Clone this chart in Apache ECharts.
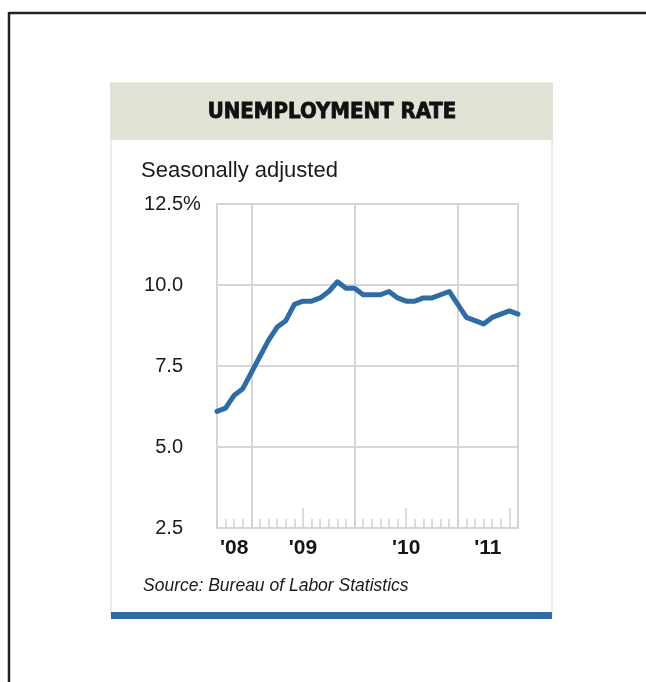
<!DOCTYPE html>
<html>
<head>
<meta charset="utf-8">
<script src="https://cdn.jsdelivr.net/npm/echarts@6/dist/echarts.min.js"></script>
<style>
  html, body { margin: 0; padding: 0; background: #ffffff; }
  #chart { width: 646px; height: 682px; }
</style>
</head>
<body>
<div id="chart"></div>
<script>
// ---- data (monthly, seasonally adjusted) ----
const months = [
  '2008-08','2008-09','2008-10','2008-11','2008-12',
  '2009-01','2009-02','2009-03','2009-04','2009-05','2009-06','2009-07','2009-08','2009-09','2009-10','2009-11','2009-12',
  '2010-01','2010-02','2010-03','2010-04','2010-05','2010-06','2010-07','2010-08','2010-09','2010-10','2010-11','2010-12',
  '2011-01','2011-02','2011-03','2011-04','2011-05','2011-06','2011-07'
];
const rates = [
  6.1, 6.2, 6.6, 6.8, 7.3,
  7.8, 8.3, 8.7, 8.9, 9.4, 9.5, 9.5, 9.6, 9.8, 10.1, 9.9, 9.9,
  9.7, 9.7, 9.7, 9.8, 9.6, 9.5, 9.5, 9.6, 9.6, 9.7, 9.8, 9.4,
  9.0, 8.9, 8.8, 9.0, 9.1, 9.2, 9.1
];
const yearLabels = ["'08", "'09", "'10", "'11"];
const yTickValues = [2.5, 5.0, 7.5, 10.0, 12.5];
const titleText = 'UNEMPLOYMENT RATE';
const subtitleText = 'Seasonally adjusted';
const sourceText = 'Source: Bureau of Labor Statistics';

// ---- derived: x in months since Jan 1 2008, plotted at month end ----
const baseYear = 2008;
function monthEnd(s) {
  const [y, m] = s.split('-').map(Number);
  return (y - baseYear) * 12 + m;
}
const xs = months.map(monthEnd);
const xMin = monthEnd(months[0]);
const xMax = monthEnd(months[months.length - 1]);
const seriesData = rates.map((v, i) => [xs[i], v]);

const yearBounds = [];
const monthTicks = [];
const midYearTicks = [];
for (let t = Math.ceil(xMin); t <= xMax; t++) {
  monthTicks.push(t);
  if (t % 12 === 0 && t > xMin && t < xMax) yearBounds.push(t);
  if (t % 12 === 6) midYearTicks.push(t);
}
const yearCenters = yearLabels.map((_, k) => {
  const lo = Math.max(xMin, k * 12), hi = Math.min(xMax, (k + 1) * 12);
  return (lo + hi) / 2;
});

const gridColor = '#d3d6db';
const labelFont = "'Liberation Sans', Arial, Helvetica, sans-serif";

const G = { left: 217, top: 204, width: 301, height: 324 };

const baseX = { type: 'value', min: xMin, max: xMax, gridIndex: 0, position: 'bottom', offset: 0,
                axisLine: { show: false, onZero: false } };

const option = {
  animation: false,
  backgroundColor: '#ffffff',
  grid: { left: G.left, top: G.top, width: G.width, height: G.height,
          show: true, borderColor: gridColor, borderWidth: 2, backgroundColor: 'transparent' },
  xAxis: [
    Object.assign({}, baseX, {
      axisTick: { show: false, customValues: yearBounds },
      axisLabel: { show: false },
      splitLine: { show: true, lineStyle: { color: gridColor, width: 2 } }
    }),
    Object.assign({}, baseX, {
      axisTick: { show: true, inside: true, length: 9, customValues: monthTicks,
                  lineStyle: { color: '#cdd0d5', width: 1.5 } },
      axisLabel: { show: false },
      splitLine: { show: false }
    }),
    Object.assign({}, baseX, {
      axisTick: { show: true, inside: true, length: 20, customValues: midYearTicks,
                  lineStyle: { color: '#cdd0d5', width: 1.5 } },
      axisLabel: { show: false },
      splitLine: { show: false }
    }),
    Object.assign({}, baseX, {
      axisTick: { show: false },
      splitLine: { show: false },
      axisLabel: { show: true, customValues: yearCenters, margin: 10,
                   color: '#141414', fontFamily: labelFont, fontWeight: 'bold', fontSize: 21,
                   formatter: v => yearLabels[Math.floor(v / 12)] }
    })
  ],
  yAxis: [
    {
      type: 'value', min: yTickValues[0], max: yTickValues[yTickValues.length - 1], interval: 2.5,
      position: 'left',
      axisLine: { show: false }, axisTick: { show: false },
      splitLine: { show: true, lineStyle: { color: gridColor, width: 2 } },
      axisLabel: { margin: 34, color: '#1a1a1a', fontFamily: labelFont, fontSize: 20,
                   formatter: v => v.toFixed(1) }
    },
    {
      type: 'value', min: yTickValues[0], max: yTickValues[yTickValues.length - 1], interval: 2.5,
      position: 'left', offset: 0,
      axisLine: { show: false }, axisTick: { show: false }, splitLine: { show: false },
      axisLabel: { margin: 34, align: 'left', color: '#1a1a1a', fontFamily: labelFont, fontSize: 20,
                   formatter: v => (v === yTickValues[yTickValues.length - 1] ? '%' : '') }
    }
  ],
  series: [{
    type: 'line',
    xAxisIndex: 0, yAxisIndex: 0,
    data: seriesData,
    symbol: 'none',
    lineStyle: { color: '#2f6ca5', width: 5, join: 'round', cap: 'round' },
    z: 5
  }],
  graphic: [
    // outer frame
    { type: 'line', shape: { x1: 9, y1: 13, x2: 646, y2: 13 }, style: { stroke: '#222', lineWidth: 2.5 }, z: -1 },
    { type: 'line', shape: { x1: 9, y1: 12, x2: 9, y2: 682 }, style: { stroke: '#222', lineWidth: 2.5 }, z: -1 },
    // card
    { type: 'rect', shape: { x: 111, y: 83, width: 441, height: 532 },
      style: { fill: '#ffffff', stroke: '#ececE3', lineWidth: 2 }, z: -2 },
    { type: 'rect', shape: { x: 110, y: 83, width: 443, height: 57 },
      style: { fill: '#e2e3d6' }, z: -1 },
    { type: 'rect', shape: { x: 111, y: 612, width: 441, height: 7 },
      style: { fill: '#2f6ba4' }, z: -1 },
    // texts
    { type: 'text', x: 332, y: 112,
      style: { text: titleText, fill: '#111111', stroke: '#111111', lineWidth: 0.8,
               font: "bold 22px 'DejaVu Sans Condensed', 'DejaVu Sans', sans-serif",
               align: 'center', verticalAlign: 'middle' } },
    { type: 'text', x: 141, y: 171,
      style: { text: subtitleText, fill: '#1a1a1a', font: "22px 'Liberation Sans', Arial, sans-serif",
               align: 'left', verticalAlign: 'middle' } },
    { type: 'text', x: 143, y: 586,
      style: { text: sourceText, fill: '#1a1a1a', font: "italic 17.5px 'Liberation Sans', Arial, sans-serif",
               align: 'left', verticalAlign: 'middle' } }
  ]
};

const chart = echarts.init(document.getElementById('chart'), null, { renderer: 'canvas' });
chart.setOption(option);
</script>
</body>
</html>
